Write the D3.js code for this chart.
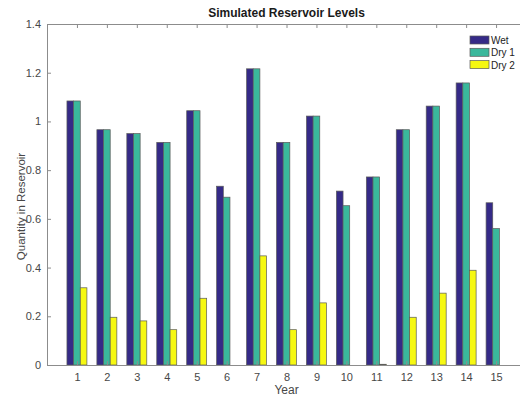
<!DOCTYPE html>
<html>
<head>
<meta charset="utf-8">
<script src="https://cdn.jsdelivr.net/npm/d3@7"></script>
<style>
  html, body { margin: 0; padding: 0; background: #fff; }
  svg { display: block; font-family: "Liberation Sans", Arial, Helvetica, sans-serif; }
</style>
</head>
<body>
<svg id="chart" width="520" height="397"></svg>
<script>
// Simulated reservoir levels by year for three scenarios
const years = [1, 2, 3, 4, 5, 6, 7, 8, 9, 10, 11, 12, 13, 14, 15];
const wet  = [1.084, 0.966, 0.950, 0.914, 1.044, 0.734, 1.216, 0.914, 1.022, 0.714, 0.772, 0.966, 1.063, 1.158, 0.666];
const dry1 = [1.084, 0.966, 0.950, 0.914, 1.044, 0.689, 1.216, 0.914, 1.022, 0.654, 0.772, 0.966, 1.063, 1.158, 0.560];
const dry2 = [0.317, 0.196, 0.181, 0.145, 0.274, 0.000, 0.448, 0.145, 0.255, 0.000, 0.003, 0.196, 0.295, 0.389, 0.000];
const seriesNames = ["Wet", "Dry 1", "Dry 2"];
const seriesColors = ["#352a87", "#3ab89c", "#f6f811"];
const yTicks = [0, 0.2, 0.4, 0.6, 0.8, 1, 1.2, 1.4];

const series = [wet, dry1, dry2];

const svg = d3.select("#chart");
const margin = { left: 47, top: 24, right: -6, bottom: 32 };
const W = 520, H = 397;
const x0 = margin.left, x1 = W - margin.right;
const y0 = H - margin.bottom, y1 = margin.top;

const x = d3.scaleLinear().domain([0, 16]).range([x0, x1]);
const y = d3.scaleLinear().domain([0, 1.4]).range([y0, y1]);

// grouped bar geometry: group spans 2/3 of a unit, bars touch
const groupW = 2 / 3;
const barW = groupW / series.length;

const axisColor = "#8c8c8c";
const textColor = "#474747";

// bars
series.forEach((vals, s) => {
  svg.append("g")
    .selectAll("rect")
    .data(vals.map((v, i) => ({ year: years[i], v })))
    .join("rect")
    .attr("x", d => x(d.year - groupW / 2 + s * barW))
    .attr("width", d => x(barW) - x(0))
    .attr("y", d => y(d.v))
    .attr("height", d => y(0) - y(d.v))
    .attr("fill", seriesColors[s])
    .attr("stroke", "#5a5a5a")
    .attr("stroke-width", 0.7);
});

// axes (ticks inward, mirrored on top)
const xAxisB = d3.axisBottom(x).tickValues(years).tickSize(-4).tickPadding(8).tickFormat(d3.format("d"));
const xAxisT = d3.axisTop(x).tickValues(years).tickSize(-4).tickFormat("");
const yAxisL = d3.axisLeft(y).tickValues(yTicks).tickSize(-4).tickPadding(6).tickFormat(d => d3.format("")(+d.toFixed(1)));

function styleAxis(g) {
  g.select(".domain").attr("stroke", axisColor);
  g.selectAll(".tick line").attr("stroke", axisColor);
  g.selectAll(".tick text").attr("fill", textColor).attr("font-size", 11)
    .attr("font-family", "'Liberation Sans', Arial, sans-serif");
}

svg.append("g").attr("transform", `translate(0,${y0})`).call(xAxisB).call(styleAxis)
  .call(g => g.select(".domain").attr("d", `M${x0},0.5H${x1}`));
svg.append("g").attr("transform", `translate(0,${y1})`).call(xAxisT).call(styleAxis)
  .call(g => g.select(".domain").attr("d", `M${x0},0.5H${x1}`));
svg.append("g").attr("transform", `translate(${x0},0)`).call(yAxisL).call(styleAxis)
  .call(g => g.select(".domain").attr("d", `M0.5,${y0}V${y1}`));

// title
svg.append("text")
  .attr("x", (x0 + x1) / 2).attr("y", 17)
  .attr("text-anchor", "middle")
  .attr("font-size", 12).attr("font-weight", "bold").attr("fill", "#1a1a1a")
  .text("Simulated Reservoir Levels");

// axis labels
svg.append("text")
  .attr("x", (x0 + x1) / 2).attr("y", 394)
  .attr("text-anchor", "middle")
  .attr("font-size", 12).attr("fill", textColor)
  .text("Year");

svg.append("text")
  .attr("transform", `translate(24.5,${(y0 + y1) / 2 + 12}) rotate(-90)`)
  .attr("text-anchor", "middle")
  .attr("font-size", 11.5).attr("fill", textColor)
  .text("Quantity in Reservoir");

// legend
const legend = svg.append("g").attr("transform", "translate(470,36)");
seriesNames.forEach((name, i) => {
  const g = legend.append("g").attr("transform", `translate(0,${i * 12.3})`);
  g.append("rect").attr("width", 19).attr("height", 8)
    .attr("fill", seriesColors[i]).attr("stroke", "#5a5a5a").attr("stroke-width", 0.7);
  g.append("text").attr("x", 21).attr("y", 8)
    .attr("font-size", 10).attr("fill", "#222").text(name);
});
</script>
</body>
</html>
